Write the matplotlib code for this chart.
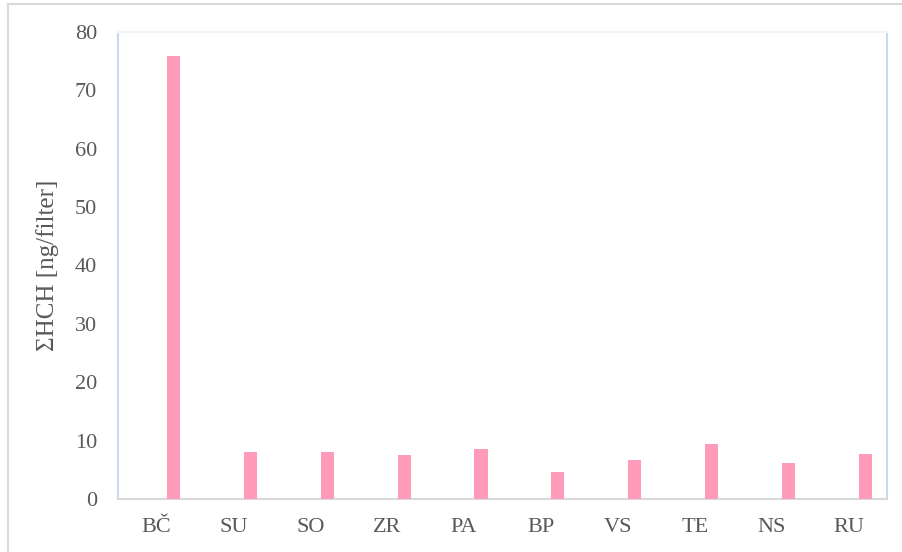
import matplotlib.pyplot as plt
import numpy as np
from matplotlib.lines import Line2D

sites = ["BČ", "SU", "SO", "ZR", "PA", "BP", "VS", "TE", "NS", "RU"]
hch = [75.9, 8.05, 8.05, 7.5, 8.5, 4.6, 6.6, 9.4, 6.2, 7.7]

W, H = 902, 552
fig = plt.figure(figsize=(W / 100, H / 100), dpi=100)
plt.rcParams['font.family'] = ['Liberation Serif', 'DejaVu Serif']

# plot area in pixels: left 118, right 887, top 32, bottom 499
ax = fig.add_axes([118 / W, 1 - 499 / H, (887 - 118) / W, (499 - 32) / H])

x = np.arange(len(sites))
ax.bar(x + 0.22, hch, width=0.17, color="#ff9bb8", zorder=3)

ax.set_xlim(-0.5, len(sites) - 0.5)
ax.set_ylim(0, 80)
ax.set_yticks(np.arange(0, 81, 10))
ax.set_xticks(x)
ax.set_xticklabels(sites)
ax.tick_params(axis="both", length=0, labelsize=16, labelcolor="#595959")
ax.tick_params(axis="x", pad=14)
ax.tick_params(axis="y", pad=15)

ax.spines["bottom"].set_color("#d9d9d9")
ax.spines["bottom"].set_linewidth(1.5)
ax.spines["left"].set_color("#c9d8ec")
ax.spines["right"].set_color("#c9d8ec")
ax.spines["top"].set_color("#f2f6fb")
for s in ["left", "right", "top"]:
    ax.spines[s].set_linewidth(1.5)

ax.set_ylabel("ΣHCH [ng/filter]", fontsize=18, color="#595959")
ax.yaxis.set_label_coords(-0.077, 0.5)

# outer chart border (left and top visible)
fig.add_artist(Line2D([8 / W, 8 / W], [0, 1 - 4 / H], transform=fig.transFigure,
                      color="#d9d9d9", lw=1.5))
fig.add_artist(Line2D([8 / W, 1], [1 - 4 / H, 1 - 4 / H], transform=fig.transFigure,
                      color="#d9d9d9", lw=1.5))

fig.savefig("out.png", dpi=100)
